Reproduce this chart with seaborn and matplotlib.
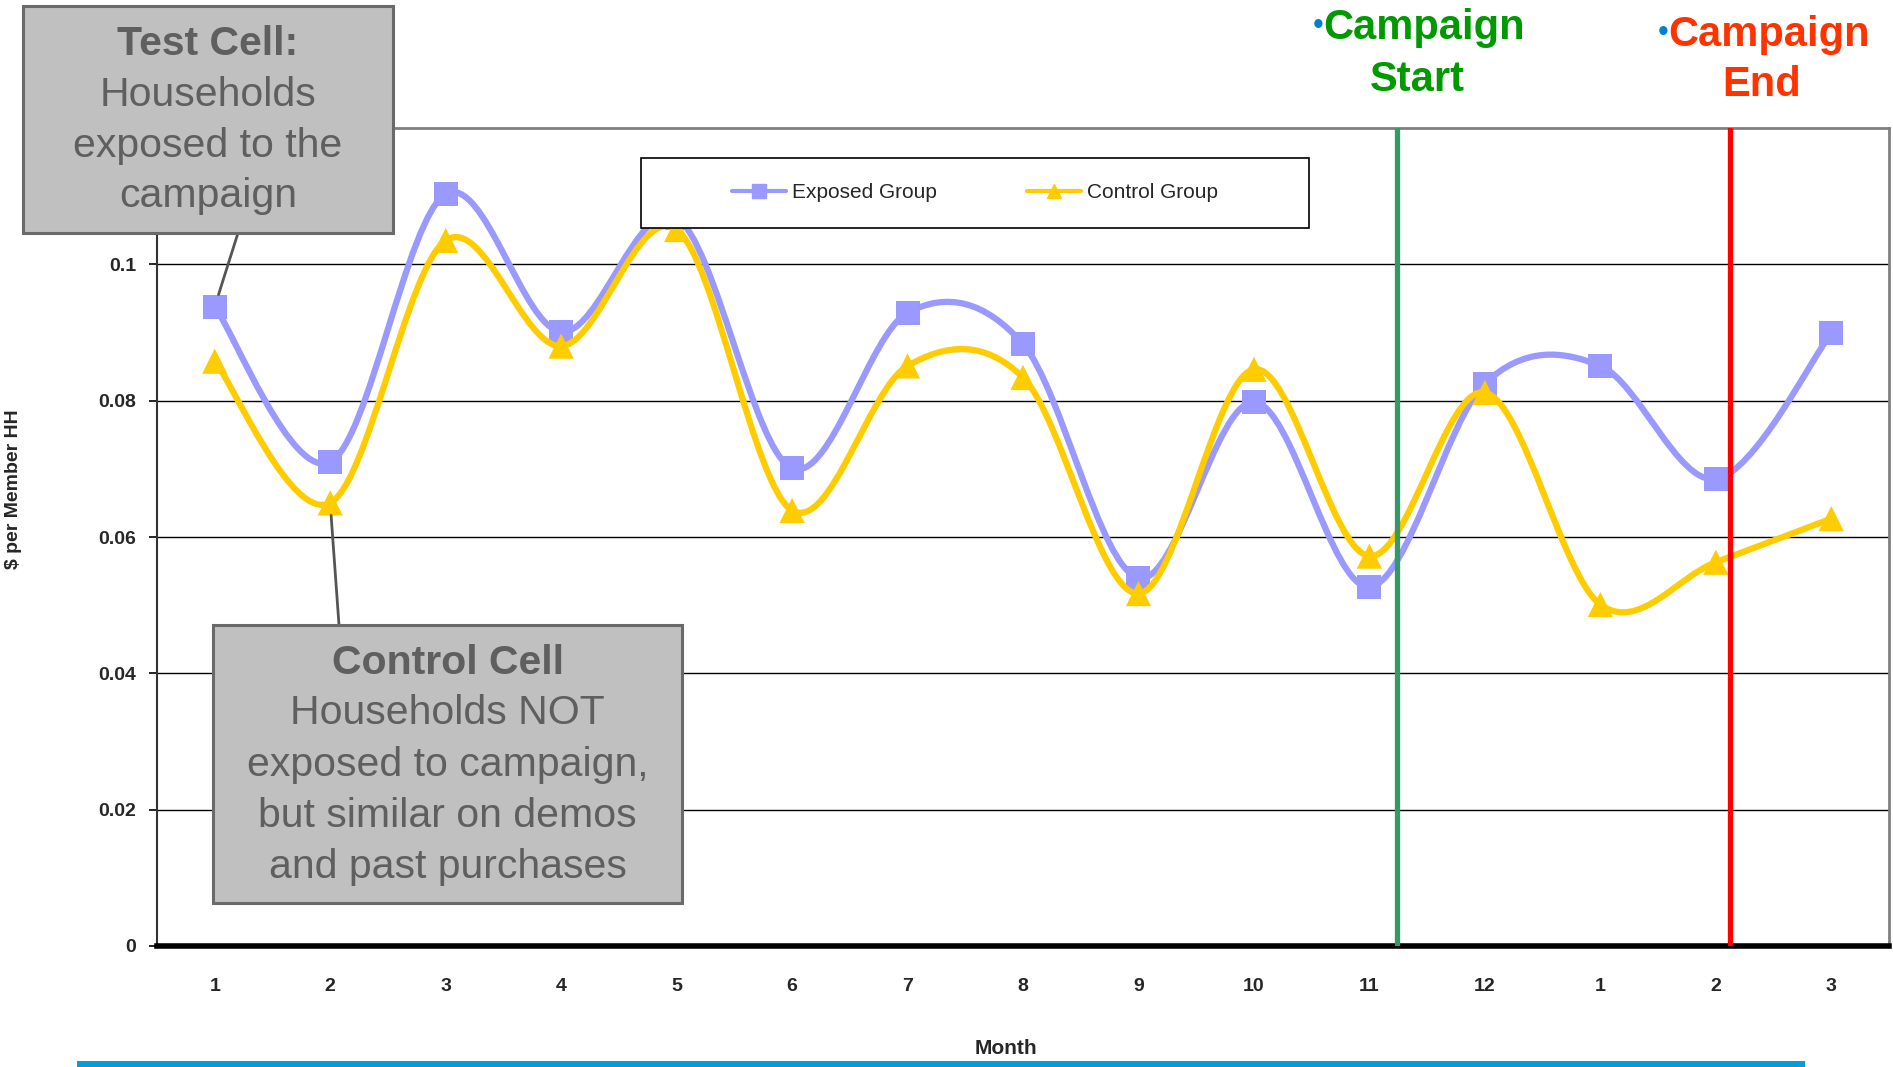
import numpy as np
import pandas as pd
import matplotlib
matplotlib.use("Agg")
import matplotlib.pyplot as plt
import seaborn as sns
from matplotlib.path import Path
from matplotlib.patches import PathPatch, Rectangle
from matplotlib.lines import Line2D

# ---------------- data ----------------
month_labels = ["1", "2", "3", "4", "5", "6", "7", "8", "9", "10", "11", "12", "1", "2", "3"]
exposed = [0.0938, 0.0710, 0.1103, 0.0901, 0.1068, 0.0701, 0.0929, 0.0883,
           0.0540, 0.0798, 0.0527, 0.0825, 0.0851, 0.0685, 0.0899]
control = [0.0858, 0.0650, 0.1035, 0.0880, 0.1051, 0.0639, 0.0851, 0.0834,
           0.0517, 0.0846, 0.0572, 0.0812, 0.0501, 0.0563, 0.0627]
campaign_start_pos = 10.24
campaign_end_pos = 13.12
y_ticks = [0, 0.02, 0.04, 0.06, 0.08, 0.1]
y_tick_labels = ["0", "0.02", "0.04", "0.06", "0.08", "0.1"]

W, H = 1893, 1067
sns.set_theme(style="white")
plt.rcParams["font.family"] = ["Liberation Sans", "DejaVu Sans"]

fig = plt.figure(figsize=(W / 100, H / 100), dpi=100)


def px(x, y):
    return (x / W, 1 - y / H)


ax = fig.add_axes([157 / W, 1 - 946 / H, (1889 - 157) / W, (946 - 128) / H])

EXP_C = "#9999FF"
CTL_C = "#FFCC00"

idx = np.arange(len(month_labels))
df = pd.DataFrame({"pos": np.concatenate([idx, idx]),
                   "value": exposed + control,
                   "group": ["Exposed Group"] * len(idx) + ["Control Group"] * len(idx)})


def smooth_path(xs, ys):
    n = len(xs)
    verts = [(xs[0], ys[0])]
    codes = [Path.MOVETO]
    for i in range(n - 1):
        a = i - 1 if i > 0 else i
        d = i + 2 if i + 2 < n else i + 1
        c1 = (xs[i] + (xs[i + 1] - xs[a]) / 6, ys[i] + (ys[i + 1] - ys[a]) / 6)
        c2 = (xs[i + 1] - (xs[d] - xs[i]) / 6, ys[i + 1] - (ys[d] - ys[i]) / 6)
        verts += [c1, c2, (xs[i + 1], ys[i + 1])]
        codes += [Path.CURVE4] * 3
    return Path(verts, codes)


for name, vals, col, mk, ms, z in [("Exposed Group", exposed, EXP_C, "s", 300, 3),
                                   ("Control Group", control, CTL_C, "^", 330, 5)]:
    ax.add_patch(PathPatch(smooth_path(idx, vals), facecolor="none", edgecolor=col,
                           lw=4.5, capstyle="round", joinstyle="round", zorder=z))
    sub = df[df["group"] == name]
    sns.scatterplot(data=sub, x="pos", y="value", marker=mk, s=ms, color=col,
                    edgecolor="none", linewidth=0, ax=ax, zorder=z + 1, legend=False)

ax.axvline(campaign_start_pos, color="#339966", lw=3.8, zorder=7)
ax.axvline(campaign_end_pos, color="#FF0000", lw=3.8, zorder=7)

ax.set_xlim(-0.5, len(month_labels) - 0.5)
ax.set_ylim(0, 0.12)
ax.set_yticks(y_ticks)
ax.set_yticklabels(y_tick_labels, fontsize=14, fontweight="bold")
ax.set_xticks(idx)
ax.set_xticklabels(month_labels, fontsize=14, fontweight="bold")
ax.set_xticks(np.arange(-0.5, len(month_labels)), minor=True)
ax.tick_params(axis="x", which="major", length=0, pad=23)
ax.tick_params(axis="x", which="minor", length=7, width=1.2, color="black", direction="out")
ax.tick_params(axis="y", which="major", length=6, width=1.2, color="black", direction="out", pad=9, left=True)
ax.set_xlabel("")
ax.set_ylabel("")
for yv in y_ticks[1:]:
    ax.axhline(yv, color="black", lw=1.0, zorder=1)
ax.spines["left"].set_color("#333333")
ax.spines["left"].set_linewidth(1.5)
ax.spines["bottom"].set_color("black")
ax.spines["bottom"].set_linewidth(4)
ax.spines["top"].set_color("#808080")
ax.spines["top"].set_linewidth(2)
ax.spines["right"].set_color("#808080")
ax.spines["right"].set_linewidth(2)

# legend box
lx0, ly0, lx1, ly1 = 641, 158, 1309, 228
fig.patches.append(Rectangle(px(lx0, ly1), (lx1 - lx0) / W, (ly1 - ly0) / H,
                             transform=fig.transFigure, facecolor="white",
                             edgecolor="black", lw=1.2, zorder=20))
handles = [Line2D([0], [0], color=EXP_C, lw=3, marker="s", markersize=10),
           Line2D([0], [0], color=CTL_C, lw=3, marker="^", markersize=10)]
leg = fig.legend(handles, ["Exposed Group", "Control Group"], loc="center",
                 bbox_to_anchor=px((lx0 + lx1) / 2, (ly0 + ly1) / 2), ncol=2,
                 frameon=False, fontsize=15, handlelength=2.6, columnspacing=4.3,
                 handletextpad=0.3)
leg.set_zorder(21)

# axis titles
fig.text(*px(14, 489), "$ per Member HH", rotation=90, ha="center", va="center",
         fontsize=14, fontweight="bold")
fig.text(*px(1006, 1049), "Month", ha="center", va="center", fontsize=15, fontweight="bold")

# blue bar
fig.patches.append(Rectangle(px(77, 1067), (1805 - 77) / W, 6 / H,
                             transform=fig.transFigure, facecolor="#009FDA",
                             edgecolor="none", zorder=5))

# campaign labels
def campaign_label(cx, y1, y2, word2, color):
    t = fig.text(*px(cx, y1), "Campaign", ha="center", va="center", fontsize=30,
                 fontweight="bold", color=color, zorder=30)
    fig.text(*px(cx - 7, y2), word2, ha="center", va="center", fontsize=30,
             fontweight="bold", color=color, zorder=30)
    ax.annotate("•", xy=(0, 0.55), xycoords=t, ha="right", va="center",
                fontsize=22, color="#0080D0", annotation_clip=False)

campaign_label(1424, 28, 80, "Start", "#009900")
campaign_label(1769, 35, 85, "End", "#FF3300")

# callout boxes
BOX_FC = "#C0C0C0"
BOX_EC = "#6A6A6A"
TXT_C = "#5F5F5F"

def callout(x0, y0, x1, y1, lines, ys):
    fig.patches.append(Rectangle(px(x0, y1), (x1 - x0) / W, (y1 - y0) / H,
                                 transform=fig.transFigure, facecolor=BOX_FC,
                                 edgecolor=BOX_EC, lw=2.2, zorder=25))
    cx = (x0 + x1) / 2
    for k, (s, yy) in enumerate(zip(lines, ys)):
        fig.text(*px(cx, yy), s, ha="center", va="center", fontsize=29.5,
                 fontweight="bold" if k == 0 else "normal", color=TXT_C, zorder=26)

callout(23, 6, 393, 233, ["Test Cell:", "Households", "exposed to the", "campaign"],
        [44, 95, 146, 196])
callout(213, 625, 682, 903, ["Control Cell", "Households NOT", "exposed to campaign,",
                             "but similar on demos", "and past purchases"],
        [663, 713, 765, 816, 867])

# connectors
ax.annotate("", xy=(0, exposed[0]), xytext=px(238, 233), textcoords="figure fraction",
            arrowprops=dict(arrowstyle="-", color="#555555", lw=2, shrinkA=0, shrinkB=9),
            zorder=24, annotation_clip=False)
ax.annotate("", xy=(1, control[1]), xytext=px(339, 625), textcoords="figure fraction",
            arrowprops=dict(arrowstyle="-", color="#555555", lw=2, shrinkA=0, shrinkB=9),
            zorder=24, annotation_clip=False)

fig.savefig("out.png", dpi=100)
